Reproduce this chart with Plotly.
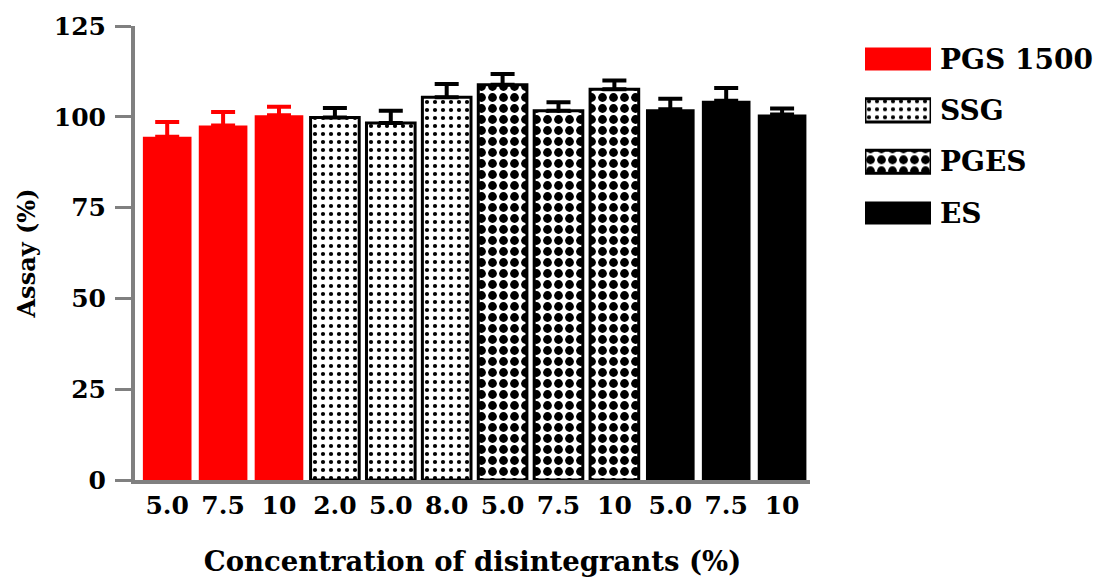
import plotly.graph_objects as go

# ---- data ----
groups = ["PGS 1500", "SSG", "PGES", "ES"]
conc_labels = [["5.0", "7.5", "10"], ["2.0", "5.0", "8.0"], ["5.0", "7.5", "10"], ["5.0", "7.5", "10"]]
assay_mean = [[94.5, 97.6, 100.4], [99.8, 98.3, 105.4], [108.8, 101.7, 107.6], [102.1, 104.4, 100.6]]
assay_sd = [[4.1, 3.7, 2.4], [2.6, 3.4, 3.6], [3.0, 2.3, 2.4], [2.9, 3.5, 1.7]]
y_ticks = [0, 25, 50, 75, 100, 125]

# ---- styles ----
FONT = "DejaVu Serif"
styles = {
    "PGS 1500": dict(color="#ff0000", line=dict(color="#ff0000", width=0), pattern=None, err="#ff0000"),
    "SSG": dict(color="white", line=dict(color="black", width=3),
                pattern=dict(shape=".", fgcolor="black", bgcolor="white", size=8, solidity=0.22, fillmode="replace"), err="black"),
    "PGES": dict(color="white", line=dict(color="black", width=3),
                 pattern=dict(shape=".", fgcolor="black", bgcolor="white", size=11, solidity=0.5, fillmode="replace"), err="black"),
    "ES": dict(color="black", line=dict(color="black", width=0), pattern=None, err="black"),
}


def make_marker(st):
    marker = dict(color=st["color"], line=st["line"])
    if st["pattern"]:
        marker["pattern"] = st["pattern"]
    return marker


fig = go.Figure()
pos = 0
all_ticks, all_text = [], []
for g, labs, m, sd in zip(groups, conc_labels, assay_mean, assay_sd):
    xs = list(range(pos, pos + len(labs)))
    pos += len(labs)
    all_ticks += xs
    all_text += labs
    st = styles[g]
    fig.add_trace(go.Bar(
        x=xs, y=m, name=g, width=0.87, marker=make_marker(st),
        error_y=dict(type="data", array=sd, arrayminus=[0] * len(sd), symmetric=False,
                     color=st["err"], thickness=4, width=12),
        showlegend=False,
    ))

# legend drawn as large swatches on a small helper axis
for i, g in enumerate(groups):
    fig.add_trace(go.Bar(
        x=[1], y=[i], orientation="h", width=0.45, marker=make_marker(styles[g]),
        xaxis="x2", yaxis="y2", showlegend=False, hoverinfo="skip",
    ))

fig.update_layout(
    width=1103, height=586,
    margin=dict(l=127, r=5, t=18, b=114, autoexpand=False),
    plot_bgcolor="white", paper_bgcolor="white",
    font=dict(family=FONT, size=24, color="black", weight="bold"),
    showlegend=False,
    xaxis=dict(
        domain=[0, 0.6952], automargin=False,
        range=[-0.576, 11.5], tickmode="array", tickvals=all_ticks, ticktext=all_text,
        showline=True, linecolor="#808080", linewidth=4, ticks="", showgrid=False, zeroline=False,
        tickfont=dict(family=FONT, size=25, color="black", weight="bold"),
        title=dict(text="Concentration of disintegrants (%)", standoff=34,
                   font=dict(family=FONT, size=27.5, color="black", weight="bold")),
    ),
    yaxis=dict(
        automargin=False,
        range=[0, 125], tickmode="array", tickvals=y_ticks,
        showline=True, linecolor="#808080", linewidth=4, ticks="outside", ticklen=16, tickwidth=3,
        tickcolor="#808080", showgrid=False, zeroline=False, ticklabelstandoff=4,
        tickfont=dict(family=FONT, size=25, color="black", weight="bold"),
        title=dict(text="Assay (%)", standoff=12,
                   font=dict(family=FONT, size=24, color="black", weight="bold")),
    ),
    xaxis2=dict(domain=[0.7518, 0.8198], anchor="y2", range=[0, 1], visible=False, fixedrange=True),
    yaxis2=dict(domain=[0.5315, 0.9839], anchor="x2", range=[3.5, -0.5], side="right",
                tickmode="array", tickvals=list(range(len(groups))), ticktext=groups,
                showline=False, showgrid=False, zeroline=False, ticks="", ticklabelstandoff=8,
                tickfont=dict(family=FONT, size=28, color="black", weight="bold"), automargin=False,
                fixedrange=True),
)

fig.write_html("out.html")
